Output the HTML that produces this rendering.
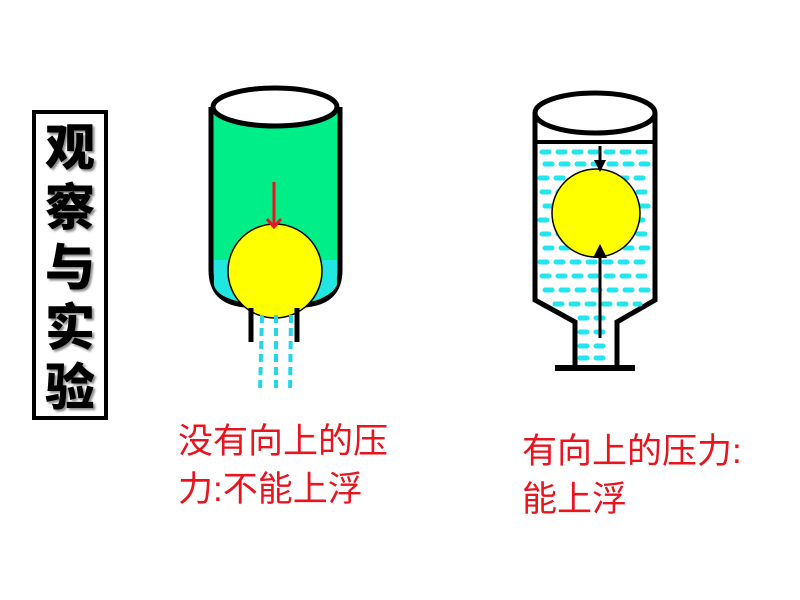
<!DOCTYPE html>
<html><head><meta charset="utf-8"><style>
body{margin:0;background:#fff;width:800px;height:600px;overflow:hidden;position:relative;font-family:"Liberation Sans","Noto Sans CJK SC",sans-serif}
.t{position:absolute;color:#e8141e;font-size:35px;line-height:48px;white-space:nowrap}
.box{position:absolute;left:32px;top:110px;width:68px;height:302px;border:4px solid #000;background:#fff}
.box div{font-size:50px;font-weight:900;color:#000;text-align:center;line-height:60px;font-family:"Noto Sans CJK SC",sans-serif;text-shadow:2px 2px 2px #888}
</style></head><body>
<div class="box"><div>观</div><div>察</div><div>与</div><div>实</div><div>验</div></div>
<svg width="800" height="600" style="position:absolute;left:0;top:0">
<path d="M211 107 L211 270 Q211 302 245 305 L305 305 Q340 302 340 270 L340 107" fill="#00ee88" stroke="#000" stroke-width="5"/>
<path d="M214 260 L337 260 L337 285 Q330 300 300 302 L250 302 Q218 300 214 285Z" fill="#22e6e0"/>
<ellipse cx="275" cy="107" rx="62" ry="19" fill="#fff" stroke="#000" stroke-width="5"/>
<circle cx="275" cy="271" r="47" fill="#ffff00" stroke="#000" stroke-width="1.5"/>
<line x1="274" y1="182" x2="274" y2="225" stroke="#e8141e" stroke-width="3"/>
<path d="M267 219 L274 227 L281 219" fill="none" stroke="#e8141e" stroke-width="3"/>
<line x1="251" y1="308" x2="251" y2="342" stroke="#000" stroke-width="5"/>
<line x1="297" y1="308" x2="297" y2="342" stroke="#000" stroke-width="5"/>
<g stroke="#22d8e8" stroke-width="4" stroke-dasharray="8 5">
<line x1="262" y1="315" x2="260" y2="392"/><line x1="276" y1="315" x2="276" y2="388"/><line x1="291" y1="315" x2="290" y2="392"/>
</g>
<path d="M535 113 L535 300 L575 322 L575 368 M617 368 L617 322 L655 300 L655 113" fill="#fff" stroke="#000" stroke-width="5"/>
<g stroke="#22e6ee" stroke-width="5" stroke-linecap="round" stroke-dasharray="7 9">
<line x1="542" y1="152" x2="650" y2="152"/><line x1="545" y1="164" x2="650" y2="164"/><line x1="540" y1="178" x2="650" y2="178"/>
<line x1="542" y1="192" x2="650" y2="192"/><line x1="545" y1="206" x2="650" y2="206"/><line x1="540" y1="220" x2="650" y2="220"/>
<line x1="542" y1="234" x2="650" y2="234"/><line x1="545" y1="248" x2="650" y2="248"/><line x1="540" y1="262" x2="650" y2="262"/>
<line x1="542" y1="276" x2="650" y2="276"/><line x1="545" y1="290" x2="650" y2="290"/><line x1="555" y1="304" x2="640" y2="304"/>
<line x1="580" y1="318" x2="612" y2="318"/><line x1="580" y1="332" x2="612" y2="332"/><line x1="580" y1="346" x2="612" y2="346"/><line x1="580" y1="358" x2="612" y2="358"/>
</g>
<line x1="536" y1="142" x2="654" y2="142" stroke="#000" stroke-width="4"/>
<ellipse cx="595" cy="113" rx="60" ry="20" fill="#fff" stroke="#000" stroke-width="5"/>
<circle cx="596" cy="213" r="44" fill="#ffff00" stroke="#000" stroke-width="1.5"/>
<line x1="600" y1="146" x2="600" y2="165" stroke="#000" stroke-width="3"/>
<path d="M594 160 L600 172 L606 160Z" fill="#000"/>
<line x1="600" y1="255" x2="600" y2="338" stroke="#000" stroke-width="3"/>
<path d="M593 258 L600 244 L607 258Z" fill="#000"/>
<rect x="555" y="365" width="80" height="6" fill="#000"/>
</svg>
<div class="t" style="left:178px;top:418px">没有向上的压<br>力:不能上浮</div>
<div class="t" style="left:522px;top:428px">有向上的压力:<br>能上浮</div>
</body></html>
